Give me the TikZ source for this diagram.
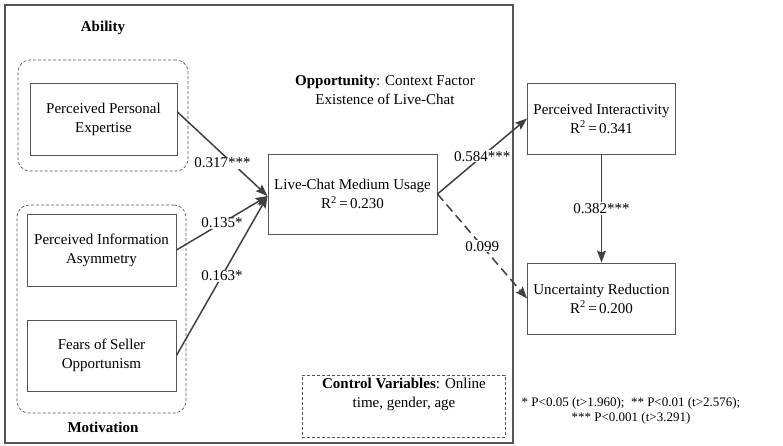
\documentclass[tikz,border=0pt]{standalone}
\usepackage{fontspec}
\setmainfont{Liberation Serif}
\usepackage{xcolor}
\definecolor{lineGray}  {HTML}{404040}
\definecolor{frameGray} {HTML}{555555}
\usetikzlibrary{arrows.meta, positioning}
\tikzset{
    construct/.style={rectangle, draw=frameGray, line width=0.9pt, align=center,
                      minimum width=148pt, minimum height=72pt, inner sep=2pt},
    grouping/.style={rectangle, rounded corners=12pt, draw=frameGray, line width=0.7pt,
                     dash pattern=on 3pt off 2pt},
    ctrlbox/.style={rectangle, draw=frameGray, line width=0.7pt,
                    dash pattern=on 3pt off 2pt},
    frame/.style={rectangle, draw=frameGray, line width=1.5pt},
    heading/.style={font=\fontsize{15}{19}\selectfont\bfseries},
    effect/.style={-{Stealth[length=12pt, width=9pt, inset=2pt]}, line width=1.5pt,
                   draw=lineGray},
    weakeffect/.style={effect, dash pattern=on 9pt off 5pt},
    coef/.style={fill=white, inner sep=1pt},
}

\begin{document}
\begin{tikzpicture}[x=1pt, y=-1pt, font=\fontsize{15}{19}\selectfont]
    \useasboundingbox (0,0) rectangle (783,445);

    % opportunity context frame
    \node[frame, minimum width=508pt, minimum height=438pt] (context) at (259,224) {};
    \node[align=center] (opportunity) at (385,90)
        {\textbf{Opportunity}: Context Factor\\Existence of Live-Chat};

    % ability and motivation groups
    \node[grouping, minimum width=170pt, minimum height=111pt] (ability) at (103,115.5) {};
    \node[heading] (abilitytxt) at (103,28) {Ability};
    \node[grouping, minimum width=169pt, minimum height=208pt] (motivation) at (101.5,309) {};
    \node[heading] (motivationtxt) at (103,427) {Motivation};

    % constructs
    \node[construct, minimum width=147pt] (ppe) at (103.5,119) {Perceived Personal\\Expertise};
    \node[construct, minimum width=149pt] (pia) at (101.5,250) {Perceived Information\\Asymmetry};
    \node[construct, minimum width=149pt, minimum height=71pt] (fso) at (101.5,355.5)
        {Fears of Seller\\Opportunism};
    \node[construct, minimum width=169pt, minimum height=80pt] (lcu) at (352.5,194)
        {Live-Chat Medium Usage\\R\textsuperscript{2}\,=\,0.230};
    \node[construct, minimum height=71pt] (pi) at (601.5,118.5)
        {Perceived Interactivity\\R\textsuperscript{2}\,=\,0.341};
    \node[construct, minimum height=71pt] (ur) at (601.5,298.5)
        {Uncertainty Reduction\\R\textsuperscript{2}\,=\,0.200};

    % control variables
    \node[ctrlbox, minimum width=203pt, minimum height=62pt] (control) at (403.5,406) {};
    \node[align=center] (controltxt) at (404,394)
        {\textbf{Control Variables}: Online\\time, gender, age};

    % paths
    \draw[effect] ([yshift=7pt]ppe.east) -- ([yshift=-2pt]lcu.west)
        node[coef, pos=0.5, yshift=-9pt] {0.317***};
    \draw[effect] (pia.east) -- ([yshift=-2pt]lcu.west) node[coef, pos=0.5] {0.135*};
    \draw[effect] (fso.east) -- ([yshift=-2pt]lcu.west) node[coef, pos=0.5] {0.163*};
    \draw[effect] (lcu.east) -- (pi.west) node[coef, pos=0.5] {0.584***};
    \draw[weakeffect] (lcu.east) -- (ur.west) node[coef, pos=0.5] {0.099};
    \draw[effect] (pi.south) -- (ur.north) node[coef, pos=0.5] {0.382***};

    % significance levels
    \node[align=center, font=\fontsize{13}{15}\selectfont] (legend) at (631,410.5)
        {* P<0.05 (t>1.960);~ ** P<0.01 (t>2.576);\\*** P<0.001 (t>3.291)};
\end{tikzpicture}
\end{document}
